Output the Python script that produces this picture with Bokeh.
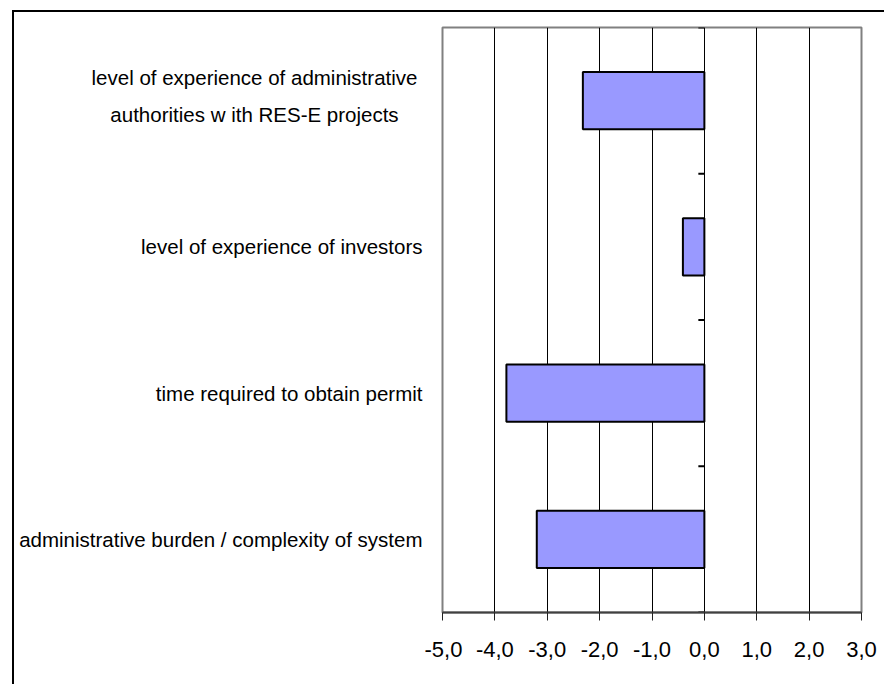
from bokeh.plotting import figure
from bokeh.layouts import row
from bokeh.models import FactorRange, Range1d, FixedTicker, ColumnDataSource
from bokeh.embed import file_html
from bokeh.resources import INLINE

# ---- data (bottom to top) ----
categories = [
    "administrative burden / complexity of system",
    "time required to obtain permit",
    "level of experience of investors",
    "level of experience of administrative\nauthorities w ith RES-E projects",
]
values = [-3.20, -3.78, -0.41, -2.32]
x_ticks = [-5, -4, -3, -2, -1, 0, 1, 2, 3]
x_tick_labels = ["-5,0", "-4,0", "-3,0", "-2,0", "-1,0", "0,0", "1,0", "2,0", "3,0"]

FONT = "Liberation Sans"
H = 672
TOP, BOTTOM = 15, 72
LABEL_W = 410
MAIN_PAD_L = 18

y_range = FactorRange(factors=categories, range_padding=0)

# ---- label panel (category names) ----
lp = figure(
    width=LABEL_W, height=H, y_range=y_range, x_range=Range1d(0, LABEL_W),
    output_backend="svg", toolbar_location=None,
    x_axis_location=None, y_axis_location=None,
    min_border_left=0, min_border_right=0, min_border_top=TOP, min_border_bottom=BOTTOM,
)
lp.outline_line_color = None
lp.grid.grid_line_color = None
lp.background_fill_color = "white"
lp.border_fill_color = "white"

single = [c for c in categories if "\n" not in c]
multi = [c for c in categories if "\n" in c]
lp.text(x=[LABEL_W - 2] * len(single), y=single, text=single,
        text_align="right", text_baseline="middle",
        text_font={"value": FONT}, text_font_size="20.5px", text_color="black")
lp.text(x=[240] * len(multi), y=multi, text=multi, y_offset=-5,
        text_align="center", text_baseline="middle", text_line_height=1.6,
        text_font={"value": FONT}, text_font_size="20.5px", text_color="black")

# ---- main chart ----
p = figure(
    width=MAIN_PAD_L + 419 + 23, height=H, y_range=y_range,
    x_range=Range1d(x_ticks[0], x_ticks[-1]),
    output_backend="svg", toolbar_location=None, y_axis_location=None,
    min_border_left=MAIN_PAD_L, min_border_right=23, min_border_top=TOP, min_border_bottom=BOTTOM,
)
p.background_fill_color = "white"
p.border_fill_color = "white"
p.outline_line_color = "#808080"
p.outline_line_width = 2

src = ColumnDataSource(dict(cat=categories, val=values, zero=[0] * len(values)))
p.hbar(y="cat", left="val", right="zero", height=0.39, source=src,
       fill_color="#9999FF", line_color="black", line_width=2)

# category axis ticks at x = 0
bounds = list(range(len(categories) + 1))
p.segment(x0=[0] * len(bounds), x1=[-0.115] * len(bounds), y0=bounds, y1=bounds,
          line_color="black", line_width=2)

p.ygrid.grid_line_color = None
p.xgrid.ticker = FixedTicker(ticks=x_ticks)
p.xgrid.grid_line_color = "black"
p.xgrid.grid_line_width = 1

xa = p.xaxis[0]
xa.ticker = FixedTicker(ticks=x_ticks)
xa.major_label_overrides = {t: l for t, l in zip(x_ticks, x_tick_labels)}
xa.axis_line_color = "#404040"
xa.axis_line_width = 2
xa.major_tick_line_color = "#202020"
xa.major_tick_out = 8
xa.major_tick_in = 0
xa.minor_tick_line_color = None
xa.major_label_text_font = FONT
xa.major_label_text_font_size = "22px"
xa.major_label_text_color = "black"
xa.major_label_standoff = 21

layout = row(lp, p, spacing=0,
             styles={"margin-left": "12px", "margin-top": "10px",
                     "border-left": "2px solid black", "border-top": "2px solid black",
                     "background": "white"})

open("out.html", "w").write(file_html(layout, INLINE))
